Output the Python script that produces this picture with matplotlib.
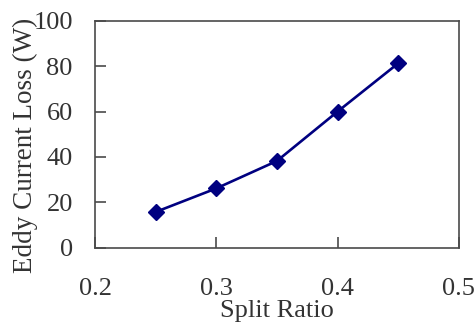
import matplotlib.pyplot as plt

split_ratio = [0.25, 0.30, 0.35, 0.40, 0.45]
eddy_loss = [15.7, 26.1, 38.2, 60.0, 81.3]
x_ticks = [0.2, 0.3, 0.4, 0.5]
y_ticks = [0, 20, 40, 60, 80, 100]

plt.rcParams['font.family'] = ['Liberation Serif', 'DejaVu Serif']

fig = plt.figure(figsize=(4.75, 3.27), dpi=100)
ax = fig.add_axes([0.2, 0.243, 0.766, 0.693])

ax.plot(split_ratio, eddy_loss, color='#000080', linewidth=1.9,
        marker='D', markersize=8.5, markerfacecolor='#000080', markeredgecolor='#000080')

ax.set_xlim(0.2, 0.5)
ax.set_ylim(0, 100)
ax.set_xticks(x_ticks)
ax.set_yticks(y_ticks)
ax.set_xticklabels([f"{v:.1f}" for v in x_ticks])
ax.tick_params(axis='x', direction='in', length=8, width=1.2, pad=22,
               labelsize=19, colors='#4a4a4a', labelcolor='#333333')
ax.tick_params(axis='y', direction='in', length=8, width=1.2, pad=16,
               labelsize=19, colors='#4a4a4a', labelcolor='#333333')
for s in ax.spines.values():
    s.set_color('#4a4a4a')
    s.set_linewidth(1.2)

ax.set_xlabel("Split Ratio", fontsize=19, color='#333333', labelpad=0)
ax.set_ylabel("Eddy Current Loss (W)", fontsize=19.5, color='#333333',
              va='center')
ax.yaxis.set_label_coords(-0.192, 0.45)

fig.savefig("out.png", dpi=100)
